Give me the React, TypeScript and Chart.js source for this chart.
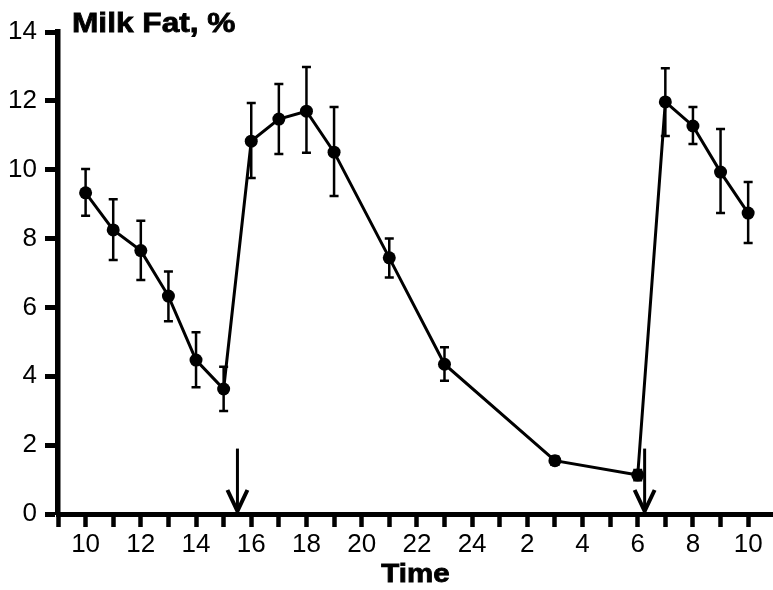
import React, { useEffect, useRef } from 'react';
import { Chart, registerables } from 'chart.js';

Chart.register(...registerables);

// Time of sampling (hours, continuing past 24 into the next morning)
const hours = [10, 11, 12, 13, 14, 15, 16, 17, 18, 19, 21, 23, 27, 30, 31, 32, 33, 34];
// Mean milk fat, %
const milkFat = [9.33, 8.25, 7.65, 6.33, 4.47, 3.63, 10.83, 11.47, 11.7, 10.51, 7.44, 4.35, 1.55, 1.13, 11.97, 11.27, 9.93, 8.74];
// Error bar ends
const errUpper = [10.02, 9.14, 8.52, 7.04, 5.28, 4.28, 11.94, 12.49, 12.98, 11.82, 8.0, 4.84, 1.67, 1.28, 12.95, 11.82, 11.18, 9.64];
const errLower = [8.66, 7.38, 6.8, 5.6, 3.68, 2.99, 9.76, 10.46, 10.49, 9.24, 6.87, 3.87, 1.43, 0.98, 10.98, 10.75, 8.74, 7.87];

// Arrows (milking times) on the time axis and their top value
const arrowHours = [15.5, 30.25];
const arrowTopValue = [1.9, 1.9];

// Axis ticks
const xTickHours = [9, 10, 11, 12, 13, 14, 15, 16, 17, 18, 19, 20, 21, 22, 23, 24, 25, 26, 27, 28, 29, 30, 31, 32, 33, 34];
const xTickLabels = ['', '10', '', '12', '', '14', '', '16', '', '18', '', '20', '', '22', '', '24', '', '2', '', '4', '', '6', '', '8', '', '10'];
const yTickValues = [0, 2, 4, 6, 8, 10, 12, 14];

const chartTitle = 'Milk Fat, %';
const xAxisTitle = 'Time';

const FONT = '"Liberation Sans", Arial, Helvetica, sans-serif';

const errorBarPlugin = {
  id: 'errorBars',
  beforeDatasetsDraw(chart: any) {
    const { ctx, scales } = chart;
    const x = scales.x;
    const y = scales.y;
    ctx.save();
    ctx.strokeStyle = '#000';
    hours.forEach((h, i) => {
      const px = x.getPixelForValue(h);
      const pt = y.getPixelForValue(errUpper[i]);
      const pb = y.getPixelForValue(errLower[i]);
      ctx.lineWidth = 2.5;
      ctx.beginPath();
      ctx.moveTo(px, pt);
      ctx.lineTo(px, pb);
      ctx.stroke();
      ctx.beginPath();
      ctx.moveTo(px - 4.5, pt);
      ctx.lineTo(px + 4.5, pt);
      ctx.moveTo(px - 4.5, pb);
      ctx.lineTo(px + 4.5, pb);
      ctx.stroke();
    });
    ctx.restore();
  },
};

const arrowPlugin = {
  id: 'arrows',
  afterDatasetsDraw(chart: any) {
    const { ctx, scales } = chart;
    const x = scales.x;
    const y = scales.y;
    ctx.save();
    ctx.strokeStyle = '#000';
    ctx.lineCap = 'butt';
    arrowHours.forEach((h, i) => {
      const px = x.getPixelForValue(h);
      const top = y.getPixelForValue(arrowTopValue[i]);
      const bottom = y.getPixelForValue(0);
      ctx.lineWidth = 3;
      ctx.beginPath();
      ctx.moveTo(px, top);
      ctx.lineTo(px, bottom - 2);
      ctx.stroke();
      ctx.lineWidth = 4;
      ctx.lineJoin = 'miter';
      ctx.beginPath();
      ctx.moveTo(px - 10, bottom - 24);
      ctx.lineTo(px, bottom - 3);
      ctx.lineTo(px + 10, bottom - 24);
      ctx.stroke();
    });
    ctx.restore();
  },
};

const textPlugin = {
  id: 'wideTexts',
  afterDraw(chart: any) {
    const { ctx, chartArea } = chart;
    ctx.save();
    ctx.fillStyle = '#000';
    ctx.strokeStyle = '#000';
    ctx.textBaseline = 'alphabetic';

    // Chart title, top-left over the plot
    ctx.save();
    ctx.font = `bold 28px ${FONT}`;
    ctx.textAlign = 'left';
    ctx.translate(chartArea.left + 14, chartArea.top);
    ctx.scale(1.13, 1);
    ctx.lineWidth = 0.8;
    ctx.fillText(chartTitle, 0, 0);
    ctx.strokeText(chartTitle, 0, 0);
    ctx.restore();

    // X axis title
    ctx.save();
    ctx.font = `bold 25px ${FONT}`;
    ctx.textAlign = 'center';
    ctx.translate((chartArea.left + chartArea.right) / 2, chartArea.bottom + 68);
    ctx.scale(1.18, 1);
    ctx.lineWidth = 0.8;
    ctx.fillText(xAxisTitle, 0, 0);
    ctx.strokeText(xAxisTitle, 0, 0);
    ctx.restore();

    ctx.restore();
  },
};

export default function App() {
  const canvasRef = useRef<HTMLCanvasElement | null>(null);

  useEffect(() => {
    if (!canvasRef.current) return;
    const chart = new Chart(canvasRef.current, {
      type: 'line',
      data: {
        datasets: [
          {
            label: chartTitle,
            data: hours.map((h, i) => ({ x: h, y: milkFat[i] })),
            borderColor: '#000',
            backgroundColor: '#000',
            borderWidth: 3,
            pointRadius: 6.5,
            pointBackgroundColor: '#000',
            pointBorderWidth: 0,
            tension: 0,
            fill: false,
          },
        ],
      },
      options: {
        responsive: false,
        animation: false,
        layout: { autoPadding: false, padding: { top: 32, right: 0, left: 0, bottom: 0 } },
        plugins: {
          legend: { display: false },
          tooltip: { enabled: false },
          title: { display: false },
        },
        scales: {
          x: {
            type: 'linear',
            min: 9,
            max: 34.9,
            afterBuildTicks: (scale: any) => {
              scale.ticks = xTickHours.map((v) => ({ value: v }));
            },
            afterFit: (scale: any) => {
              scale.height = 76;
              scale.paddingLeft = 0;
              scale.paddingRight = 0;
            },
            ticks: {
              autoSkip: false,
              maxRotation: 0,
              color: '#000',
              padding: 2,
              font: { family: FONT, size: 26 },
              callback: (v: any) => {
                const idx = xTickHours.indexOf(Number(v));
                return idx >= 0 ? xTickLabels[idx] : '';
              },
            },
            grid: {
              drawOnChartArea: false,
              drawTicks: true,
              tickLength: 13,
              tickWidth: 4.5,
              tickColor: '#000',
            },
            border: { display: true, color: '#000', width: 5 },
            title: { display: false },
          },
          y: {
            type: 'linear',
            min: 0,
            max: 14,
            afterBuildTicks: (scale: any) => {
              scale.ticks = yTickValues.map((v) => ({ value: v }));
            },
            afterFit: (scale: any) => {
              scale.width = 58;
              scale.paddingTop = 0;
              scale.paddingBottom = 0;
            },
            ticks: {
              color: '#000',
              padding: 8,
              font: { family: FONT, size: 26 },
            },
            grid: {
              drawOnChartArea: false,
              drawTicks: true,
              tickLength: 13,
              tickWidth: 5,
              tickColor: '#000',
            },
            border: { display: true, color: '#000', width: 5.5 },
          },
        },
      },
      plugins: [errorBarPlugin, arrowPlugin, textPlugin],
    } as any);
    return () => chart.destroy();
  }, []);

  return (
    <div style={{ position: 'fixed', left: 0, top: 0, width: 773, height: 590, background: '#fff' }}>
      <canvas ref={canvasRef} width={773} height={590} />
    </div>
  );
}
